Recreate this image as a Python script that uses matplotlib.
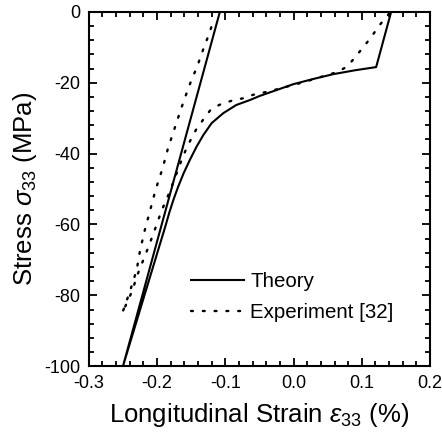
import numpy as np
import matplotlib
matplotlib.use("Agg")
import matplotlib.pyplot as plt
from matplotlib.ticker import MultipleLocator, FormatStrFormatter

plt.rcParams['font.family'] = ['Liberation Sans', 'DejaVu Sans']
plt.rcParams['mathtext.fontset'] = 'custom'
plt.rcParams['mathtext.rm'] = 'Liberation Sans'
plt.rcParams['mathtext.it'] = 'Liberation Sans:italic'
plt.rcParams['axes.unicode_minus'] = False

# Theory: loading curve then linear unloading
theory_x = [0.143, 0.121, 0.090, 0.058, 0.030, 0.0, -0.049, -0.064, -0.084, -0.103, -0.120, -0.132,
            -0.142, -0.152, -0.161, -0.169, -0.176, -0.182, -0.188, -0.25, -0.108]
theory_y = [0.0, -15.6, -16.5, -17.6, -18.9, -20.4, -23.7, -24.9, -26.3, -28.6, -31.4, -34.7,
            -38.0, -41.8, -45.5, -49.3, -53.0, -56.6, -60.6, -100.0, 0.0]

# Experiment [32]: loading branch
exp_load_x = [0.140, 0.125, 0.115, 0.103, 0.091, 0.079, 0.064, 0.014, -0.027, -0.042, -0.059,
              -0.074, -0.089, -0.106, -0.121, -0.132, -0.143, -0.151, -0.158, -0.164, -0.182,
              -0.194, -0.205, -0.216, -0.228, -0.237, -0.251]
exp_load_y = [-0.5, -4.0, -6.8, -9.8, -12.6, -15.4, -17.0, -19.9, -22.0, -22.7, -23.4,
              -24.4, -25.0, -26.0, -27.5, -30.3, -33.3, -36.2, -39.0, -41.8, -51.0,
              -56.4, -62.4, -68.0, -73.8, -79.0, -85.0]
# Experiment [32]: unloading branch
exp_unl_x = [-0.251, -0.240, -0.230, -0.225, -0.218, -0.210, -0.202, -0.192, -0.184, -0.174,
             -0.164, -0.153, -0.141, -0.130, -0.123, -0.117]
exp_unl_y = [-85.0, -79.0, -72.9, -67.4, -61.6, -55.9, -50.1, -44.2, -38.5, -32.7,
             -26.9, -20.9, -15.3, -9.3, -5.9, -2.0]

exp_x = exp_load_x + exp_unl_x[1:]
exp_y = exp_load_y + exp_unl_y[1:]

fig = plt.figure(figsize=(4.42, 4.37), dpi=100)
ax = fig.add_axes([0.201, 0.162, 0.772, 0.811])

ax.plot(theory_x, theory_y, color='black', linewidth=1.5, label='Theory')
ax.plot(exp_x, exp_y, color='black', linewidth=1.7, linestyle=(0, (0.8, 4.2)),
        dash_capstyle='round', label='Experiment [32]')

ax.set_xlim(-0.3, 0.2)
ax.set_ylim(-100, 0)
ax.xaxis.set_major_locator(MultipleLocator(0.1))
ax.xaxis.set_minor_locator(MultipleLocator(0.02))
ax.yaxis.set_major_locator(MultipleLocator(20))
ax.yaxis.set_minor_locator(MultipleLocator(4))
ax.xaxis.set_major_formatter(FormatStrFormatter('%.1f'))
ax.tick_params(which='both', direction='in', top=True, right=True, labelsize=13, width=1.3)
ax.tick_params(which='major', length=6)
ax.tick_params(which='minor', length=3.5)
ax.tick_params(axis='x', which='major', pad=6)
ax.tick_params(axis='y', which='major', pad=6)
for s in ax.spines.values():
    s.set_linewidth(1.5)

ax.set_xlabel(r'Longitudinal Strain $\varepsilon_{\mathit{33}}$ (%)', fontsize=18.5, labelpad=7)
ax.set_ylabel(r'Stress $\sigma_{\mathit{33}}$ (MPa)', fontsize=18.5, labelpad=4)

ax.legend(loc='center left', bbox_to_anchor=(0.298, 0.195), frameon=False, fontsize=14.8,
          handlelength=2.6, handletextpad=0.3, labelspacing=0.55, borderpad=0, borderaxespad=0)

fig.savefig('out.png', dpi=100)
